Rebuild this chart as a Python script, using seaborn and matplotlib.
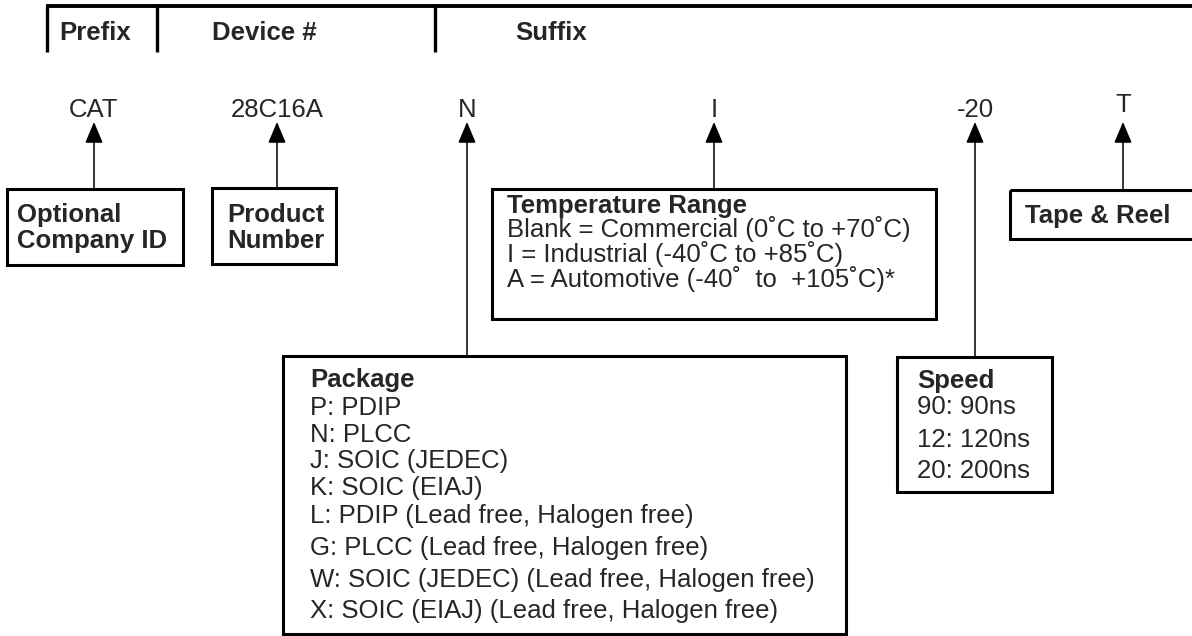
import matplotlib
matplotlib.use("Agg")

import matplotlib.pyplot as plt
from matplotlib.patches import Rectangle
import seaborn as sns

sns.set_theme(style="white")
plt.rcParams['font.family'] = ['Liberation Sans', 'DejaVu Sans']

# Ordering code parts
header_labels = ["Prefix", "Device #", "Suffix"]
code_parts = ["CAT", "28C16A", "N", "I", "-20", "T"]

# What each part means
company_lines = ["Optional", "Company ID"]
product_lines = ["Product", "Number"]
temp_title = "Temperature Range"
temp_options = ["Blank = Commercial (0˚C to +70˚C)",
                "I = Industrial (-40˚C to +85˚C)",
                "A = Automotive (-40˚  to  +105˚C)*"]
package_title = "Package"
package_options = ["P: PDIP", "N: PLCC", "J: SOIC (JEDEC)", "K: SOIC (EIAJ)",
                   "L: PDIP (Lead free, Halogen free)",
                   "G: PLCC (Lead free, Halogen free)",
                   "W: SOIC (JEDEC) (Lead free, Halogen free)",
                   "X: SOIC (EIAJ) (Lead free, Halogen free)"]
speed_title = "Speed"
speed_options = ["90: 90ns", "12: 120ns", "20: 200ns"]
tape_title = "Tape & Reel"

# layout in pixels (y grows downward)
header_x = [59, 212, 515]
divider_x = [47, 157, 435]
code_x = [94, 277, 467, 714, 975, 1123]
code_y = [117, 117, 117, 117, 117, 112]
# boxes: left, top, right, bottom
boxes = {
    "company": (7, 189, 183, 265),
    "product": (212, 188, 336, 264),
    "temp": (492, 189, 936, 319),
    "tape": (1010, 190, 1200, 239),
    "package": (283, 356, 846, 634),
    "speed": (897, 357, 1052, 492),
}
box_for_code = ["company", "product", "package", "temp", "speed", "tape"]

FS = 18.5
BOX_LW = 2.2
ARROW_LW = 1.1

fig = plt.figure(figsize=(11.92, 6.36), dpi=100)
ax = fig.add_axes([0, 0, 1, 1])
ax.set_xlim(0, 1192)
ax.set_ylim(636, 0)
ax.axis("off")

# header bar
ax.plot([divider_x[0] - 1, 1192], [6, 6], color="black", lw=2.8, solid_capstyle="butt")
for x in divider_x:
    ax.plot([x, x], [6, 52], color="black", lw=2.4, solid_capstyle="butt")
for x, lab in zip(header_x, header_labels):
    ax.text(x, 40, lab, fontsize=FS, fontweight="bold", va="baseline", ha="left")

# code letters and arrows
for x, y, lab, key in zip(code_x, code_y, code_parts, box_for_code):
    ax.text(x, y, lab, fontsize=FS, va="baseline", ha="center")
    top = boxes[key][1]
    ax.annotate("", xy=(x, 122), xytext=(x, top),
                arrowprops=dict(arrowstyle="-|>,head_length=13,head_width=5.5",
                                mutation_scale=1, lw=ARROW_LW, color="black",
                                shrinkA=0, shrinkB=0))

# boxes
for key, (l, t, r, b) in boxes.items():
    ax.add_patch(Rectangle((l, t), r - l, b - t, fill=False,
                           edgecolor="black", lw=BOX_LW, clip_on=True))

# box texts
for y, line in zip([222, 248], company_lines):
    ax.text(17, y, line, fontsize=FS, fontweight="bold", va="baseline")
for y, line in zip([222, 248], product_lines):
    ax.text(227, y, line, fontsize=FS, fontweight="bold", va="baseline")

ax.text(507, 213, temp_title, fontsize=FS, fontweight="bold", va="baseline")
for y, line in zip([237.5, 262, 286.5], temp_options):
    ax.text(507, y, line, fontsize=FS, va="baseline")

ax.text(310, 387, package_title, fontsize=FS, fontweight="bold", va="baseline")
for y, line in zip([415, 442, 468, 495, 523, 555, 587, 618], package_options):
    ax.text(310, y, line, fontsize=FS, va="baseline")

ax.text(917, 388, speed_title, fontsize=FS, fontweight="bold", va="baseline")
for y, line in zip([414, 447, 478], speed_options):
    ax.text(917, y, line, fontsize=FS, va="baseline")

ax.text(1025, 223, tape_title, fontsize=FS, fontweight="bold", va="baseline")

fig.savefig("out.png", dpi=100)
plt.close(fig)
